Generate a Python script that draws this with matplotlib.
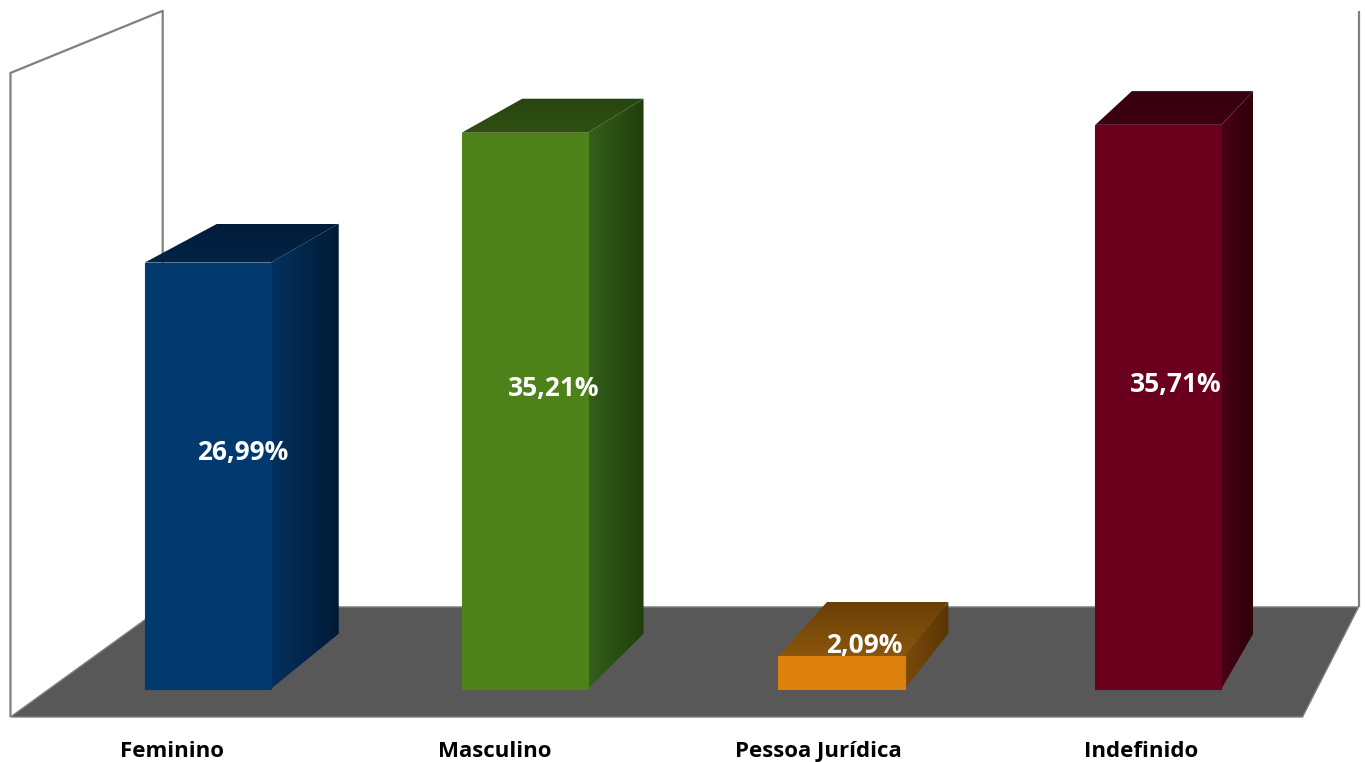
import numpy as np
import matplotlib
matplotlib.use("Agg")
import matplotlib.pyplot as plt
from matplotlib.patches import Polygon
from matplotlib.colors import to_rgb

# dados
categorias = ["Feminino", "Masculino", "Pessoa Jurídica", "Indefinido"]
valores = [26.99, 35.21, 2.09, 35.71]
rotulos = ["26,99%", "35,21%", "2,09%", "35,71%"]

cor_frente = ["#023a70", "#4c8219", "#dd800e", "#6a001e"]
cor_lado = [("#03315f", "#001a35"), ("#35601a", "#1f3e0b"),
            ("#7a4a0a", "#5a3505"), ("#4a0016", "#2e0009")]
cor_topo = [("#001c39", "#012447"), ("#284510", "#2f5012"),
            ("#6a3f05", "#8a560e"), ("#36000f", "#3e0012")]

# perspectiva (ponto de fuga em unidades de dados)
VPX, VPY = 5.833, 91.86
T_FRENTE, T_FUNDO = 0.019, 0.0563   # profundidade das barras
T_CHAO = 0.0744                      # profundidade do piso
meia_larg = 0.199
y_max = 40


def proj(x, y, t):
    return (x + t * (VPX - x), y + t * (VPY - y))


def poly_grad(ax, pts, c0, c1, vertical=False, z=2):
    p = Polygon(pts, closed=True, facecolor="none", edgecolor="none", zorder=z)
    ax.add_patch(p)
    xs = [a for a, b in pts]
    ys = [b for a, b in pts]
    g = np.linspace(0, 1, 64)
    c0, c1 = np.array(to_rgb(c0)), np.array(to_rgb(c1))
    cols = (1 - g)[:, None] * c0 + g[:, None] * c1
    img = cols[:, None, :] if vertical else cols[None, :, :]
    im = ax.imshow(img, extent=[min(xs), max(xs), min(ys), max(ys)],
                   origin="lower", aspect="auto", interpolation="bilinear", zorder=z)
    im.set_clip_path(p)


fig = plt.figure(figsize=(13.65, 7.62), dpi=100)
ax = fig.add_axes([0, 0, 1, 1])
ax.axis("off")

# piso
x0, x1 = -0.5, len(categorias) - 0.5
piso = [proj(x0, 0, 0), proj(x1, 0, 0), proj(x1, 0, T_CHAO), proj(x0, 0, T_CHAO)]
ax.add_patch(Polygon(piso, closed=True, facecolor="#585858", edgecolor="#7f7f7f",
                     lw=1, zorder=1))

# paredes (apenas contornos)
cinza = "#808080"
linhas = [
    [proj(x0, 0, 0), proj(x0, y_max, 0), proj(x0, y_max, T_CHAO), proj(x0, 0, T_CHAO)],
    [proj(x1, 0, T_CHAO), proj(x1, y_max, T_CHAO)],
]
for ln in linhas:
    xs, ys = zip(*ln)
    ax.plot(xs, ys, color=cinza, lw=1.6, zorder=1.5, solid_capstyle="butt")

# barras
for i, v in enumerate(valores):
    xl, xr = i - meia_larg, i + meia_larg
    lado = [proj(xr, 0, T_FRENTE), proj(xr, 0, T_FUNDO),
            proj(xr, v, T_FUNDO), proj(xr, v, T_FRENTE)]
    poly_grad(ax, lado, cor_lado[i][0], cor_lado[i][1], z=2)
    topo = [proj(xl, v, T_FRENTE), proj(xr, v, T_FRENTE),
            proj(xr, v, T_FUNDO), proj(xl, v, T_FUNDO)]
    poly_grad(ax, topo, cor_topo[i][1], cor_topo[i][0], vertical=True, z=2)
    frente = [proj(xl, 0, T_FRENTE), proj(xr, 0, T_FRENTE),
              proj(xr, v, T_FRENTE), proj(xl, v, T_FRENTE)]
    ax.add_patch(Polygon(frente, closed=True, facecolor=cor_frente[i],
                         edgecolor=cor_frente[i], lw=0.8, zorder=3))
    cx, cy = proj(i, v / 2, (T_FRENTE + T_FUNDO) / 2)
    ax.text(cx, cy, rotulos[i], color="white", fontsize=19, fontweight="bold",
            family=["Open Sans", "DejaVu Sans"], ha="center", va="center", zorder=5)
    ax.text(i, -2.48, categorias[i], color="black", fontsize=16, fontweight="bold",
            family=["Open Sans", "DejaVu Sans"], ha="center", va="baseline", zorder=5)

ax.set_xlim(-0.5325, 3.6935)
ax.set_ylim(-2.795, 44.53)

fig.savefig("out.png", dpi=100, facecolor="white")
